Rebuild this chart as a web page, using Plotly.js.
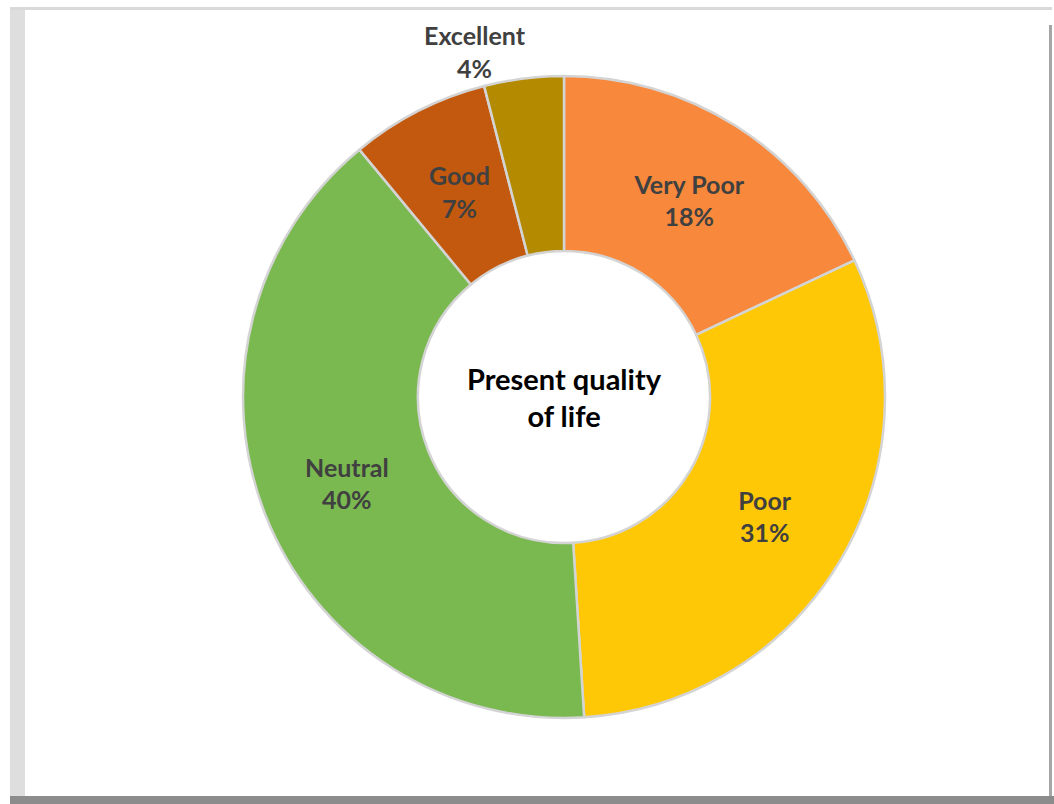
<!DOCTYPE html>
<html>
<head>
<meta charset="utf-8">
<script src="https://cdn.plot.ly/plotly-3.0.1.min.js"></script>
<style>html,body{margin:0;padding:0;background:#fff;}#chart{width:1054px;height:804px;}</style>
</head>
<body>
<div id="chart"></div>
<script>
// Data
const categories = ["Very Poor", "Poor", "Neutral", "Good", "Excellent"];
const percents = [18, 31, 40, 7, 4];
const colors = ["#F7883C", "#FFC806", "#7AB850", "#C3590F", "#B38A00"];
const centerTitle = "Present quality<br>of life";

const W = 1054, H = 804;
const cx = 564, cy = 397, R = 321;
const px = v => v / W, py = v => 1 - v / H;

// Good and Excellent labels placed as annotations (Excel-style positions); others inside
const annotated = { 3: [459, 191], 4: [475, 51] };
const textTemplates = categories.map((c, i) => (i in annotated) ? "" : "%{label}<br>%{value}%");

const FONT = "Lato, 'Open Sans', sans-serif";

const trace = {
  type: "pie",
  labels: categories,
  values: percents,
  sort: false,
  direction: "clockwise",
  rotation: 0,
  hole: 0.455,
  marker: { colors: colors, line: { color: "#d4d4d4", width: 2.5 } },
  texttemplate: textTemplates,
  textposition: "inside",
  insidetextorientation: "horizontal",
  textfont: { family: FONT, size: 25, color: "#404040", weight: "bold" },
  title: { text: "<b>" + centerTitle + "</b>", position: "middle center",
           font: { family: FONT, size: 29, color: "#000000" } },
  domain: { x: [px(cx - R), px(cx + R)], y: [py(cy + R), py(cy - R)] },
  hoverinfo: "label+percent",
  showlegend: false
};

const annotations = Object.keys(annotated).map(k => ({
  xref: "paper", yref: "paper",
  x: px(annotated[k][0]), y: py(annotated[k][1]),
  xanchor: "center", yanchor: "middle",
  showarrow: false,
  text: "<b>" + categories[k] + "<br>" + percents[k] + "%</b>",
  font: { family: FONT, size: 25, color: "#404040" }
}));

const layout = {
  width: W, height: H,
  margin: { l: 0, r: 0, t: 0, b: 0 },
  paper_bgcolor: "#ffffff",
  showlegend: false,
  annotations: annotations,
  shapes: [
    { type: "rect", xref: "paper", yref: "paper", x0: px(10), x1: px(1052), y0: py(10), y1: py(7),
      fillcolor: "#d9d9d9", line: { width: 0 }, layer: "below" },
    { type: "rect", xref: "paper", yref: "paper", x0: px(10), x1: px(25), y0: py(796), y1: py(10),
      fillcolor: "#dedede", line: { width: 0 }, layer: "below" },
    { type: "rect", xref: "paper", yref: "paper", x0: px(1049), x1: px(1052), y0: py(796), y1: py(25),
      fillcolor: "#a6a6a6", line: { width: 0 }, layer: "below" },
    { type: "rect", xref: "paper", yref: "paper", x0: px(10), x1: px(1054), y0: py(804), y1: py(796),
      fillcolor: "#8c8c8c", line: { width: 0 }, layer: "below" }
  ]
};

Plotly.newPlot("chart", [trace], layout, { displayModeBar: false, staticPlot: true });
</script>
</body>
</html>
